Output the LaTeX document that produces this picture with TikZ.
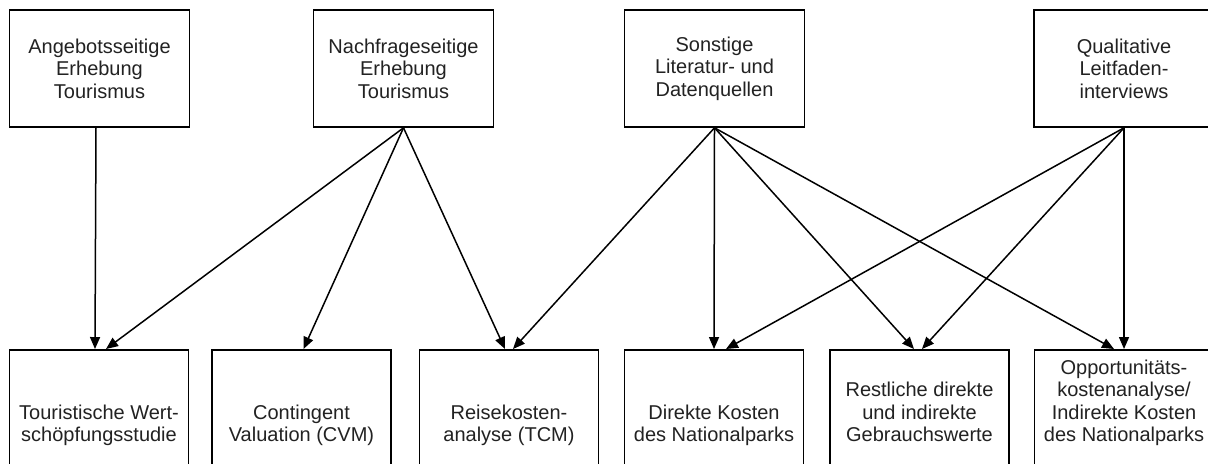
\documentclass[tikz,border=0pt]{standalone}
\usepackage{fontspec}
\setmainfont{Liberation Sans}
\usetikzlibrary{arrows.meta}
\definecolor{txt}{HTML}{222222}
\tikzset{
  x=0.5pt, y=-0.5pt,
  topbox/.style={draw, line width=0.8pt, minimum width=90pt, minimum height=58.5pt,
    align=center, inner sep=0pt, text=txt,
    font=\fontsize{10}{11.25}\selectfont},
  botbox/.style={draw, line width=0.8pt, minimum width=89.5pt, minimum height=80pt,
    anchor=north, inner sep=0pt},
  bottext/.style={align=center, anchor=south, inner sep=0pt, text=txt,
    font=\fontsize{10}{11.25}\selectfont},
  conn/.style={line width=0.75pt, -{Triangle[length=6pt,width=5pt]}},
}
\begin{document}
\begin{tikzpicture}
\useasboundingbox (0,0) rectangle (1208,463);
\clip (0,0) rectangle (1208,463);
\fill[white] (0,0) rectangle (1208,463);
% top boxes
\node[topbox] (A) at (99.5,68.5) {Angebotsseitige\\Erhebung\\Tourismus};
\node[topbox] (N) at (403.5,68.5) {Nachfrageseitige\\Erhebung\\Tourismus};
\node[topbox] (S) at (714.5,68.5) {Sonstige\\Literatur- und\\Datenquellen};
\node[topbox] (Q) at (1124,68.5) {Qualitative\\Leitfaden-\\interviews};
% bottom boxes
\node[botbox] (b1) at (99,349) {};
\node[botbox] (b2) at (301.5,349) {};
\node[botbox] (b3) at (509,349) {};
\node[botbox] (b4) at (714,349) {};
\node[botbox] (b5) at (919.5,349) {};
\node[botbox] (b6) at (1124,349) {};
% bottom texts
\node[bottext] (t1) at (99,449) {Touristische Wert-\\schöpfungsstudie\strut};
\node[bottext] (t2) at (301.5,449) {Contingent\\Valuation (CVM)\strut};
\node[bottext] (t3) at (509,449) {Reisekosten-\\analyse (TCM)\strut};
\node[bottext] (t4) at (714,449) {Direkte Kosten\\des Nationalparks\strut};
\node[bottext] (t5) at (919.5,449) {Restliche direkte\\und indirekte\\Gebrauchswerte\strut};
\node[bottext] (t6) at (1124,449) {Opportunitäts-\\kostenanalyse/\\Indirekte Kosten\\des Nationalparks\strut};
% connectors
\draw[conn] ([xshift=-1.75pt]A.south) -- ([xshift=-2pt]b1.north);
\draw[conn] (N.south) -- ([xshift=3.5pt]b1.north);
\draw[conn] (N.south) -- ([xshift=1pt]b2.north);
\draw[conn] (N.south) -- ([xshift=-2pt]b3.north);
\draw[conn] (S.south) -- ([xshift=2pt]b3.north);
\draw[conn] (S.south) -- (b4.north);
\draw[conn] (S.south) -- ([xshift=-2.75pt]b5.north);
\draw[conn] (S.south) -- ([xshift=-5pt]b6.north);
\draw[conn] (Q.south) -- ([xshift=6pt]b4.north);
\draw[conn] (Q.south) -- ([xshift=1.25pt]b5.north);
\draw[conn] (Q.south) -- (b6.north);
\end{tikzpicture}
\end{document}
